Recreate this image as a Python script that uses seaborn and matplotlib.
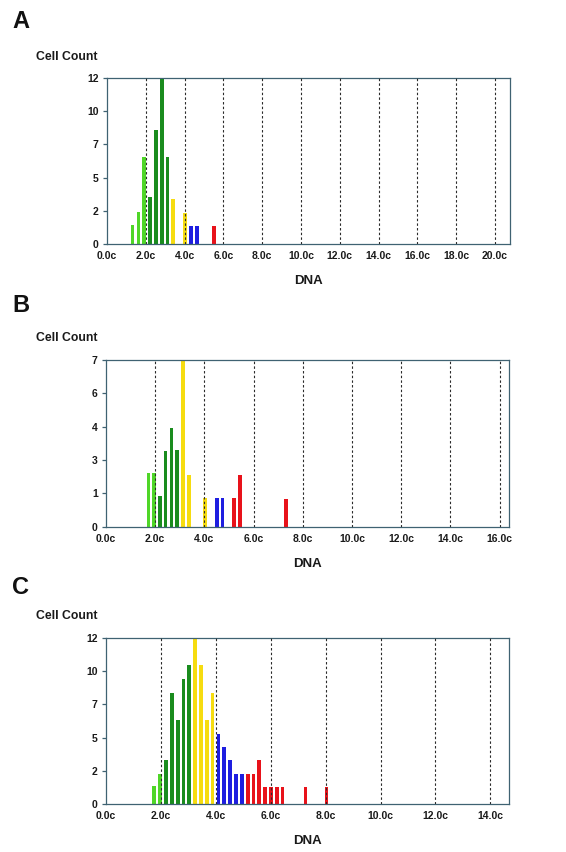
import numpy as np
import pandas as pd
import matplotlib
matplotlib.use("Agg")
import matplotlib.pyplot as plt
import seaborn as sns

# ---------------- data ----------------
a_dna = [1.32, 1.62, 1.92, 2.22, 2.52, 2.82, 3.12, 3.42, 4.02, 4.32, 4.62, 5.52]
a_count = [1.42, 2.33, 6.26, 3.38, 8.23, 12.0, 6.26, 3.26, 2.26, 1.34, 1.34, 1.30]
a_group = ["lg", "lg", "lg", "dg", "dg", "dg", "dg", "y", "y", "b", "b", "r"]

b_dna = [1.72, 1.955, 2.19, 2.425, 2.66, 2.895, 3.13, 3.365, 4.03, 4.50, 4.735, 5.205, 5.44, 7.32]
b_count = [2.24, 2.24, 1.27, 3.18, 4.14, 3.21, 7.0, 2.18, 1.20, 1.19, 1.19, 1.19, 2.17, 1.16]
b_group = ["lg", "lg", "dg", "dg", "dg", "dg", "y", "y", "y", "b", "b", "r", "r", "r"]

c_dna = [1.76, 1.97, 2.18, 2.40, 2.61, 2.82, 3.03, 3.25, 3.46, 3.67, 3.88, 4.10, 4.31,
         4.52, 4.73, 4.95, 5.16, 5.37, 5.58, 5.80, 6.01, 6.22, 6.43, 7.27, 8.03]
c_count = [1.30, 2.21, 3.17, 8.04, 6.10, 9.02, 10.0, 12.0, 10.0, 6.10, 8.04, 5.06, 4.13,
           3.17, 2.21, 2.21, 2.21, 2.21, 3.17, 1.25, 1.25, 1.25, 1.25, 1.25, 1.25]
c_group = ["lg", "lg", "dg", "dg", "dg", "dg", "dg", "y", "y", "y", "y", "b", "b",
           "b", "b", "b", "r", "r", "r", "r", "r", "r", "r", "r", "r"]

a_xticks = ["0.0c", "2.0c", "4.0c", "6.0c", "8.0c", "10.0c", "12.0c", "14.0c", "16.0c", "18.0c", "20.0c"]
b_xticks = ["0.0c", "2.0c", "4.0c", "6.0c", "8.0c", "10.0c", "12.0c", "14.0c", "16.0c"]
c_xticks = ["0.0c", "2.0c", "4.0c", "6.0c", "8.0c", "10.0c", "12.0c", "14.0c"]

a_yticks = ["0", "2", "5", "7", "10", "12"]
b_yticks = ["0", "1", "3", "4", "6", "7"]
c_yticks = ["0", "2", "5", "7", "10", "12"]

panel_letters = ["A", "B", "C"]
y_title = "Cell Count"
x_title = "DNA"

group_colors = {"lg": "#4fd628", "dg": "#1a8c1e", "y": "#f6dc10", "b": "#1e1ee0", "r": "#e8121a"}

# ---------------- style ----------------
sns.set_theme(style="white")
plt.rcParams["font.family"] = ["Liberation Sans", "DejaVu Sans"]
plt.rcParams["font.weight"] = "bold"

SPINE = "#3f6272"
W, H = 566, 852
fig = plt.figure(figsize=(W / 100, H / 100), dpi=100)

panels = [
    dict(dna=a_dna, count=a_count, group=a_group, xt=a_xticks, yt=a_yticks, ymax=12, xlim=(0.08, 20.77),
         box=(107, 77.7, 510, 244.3), letter_y=21, title_y=57, width=0.64),
    dict(dna=b_dna, count=b_count, group=b_group, xt=b_xticks, yt=b_yticks, ymax=7, xlim=(0, 16.38),
         box=(106, 360, 509, 526.7), letter_y=306, title_y=338, width=0.62),
    dict(dna=c_dna, count=c_count, group=c_group, xt=c_xticks, yt=c_yticks, ymax=12, xlim=(0, 14.68),
         box=(106, 637.7, 509, 804.3), letter_y=588, title_y=616, width=0.66),
]

for letter, p in zip(panel_letters, panels):
    x0, y0, x1, y1 = p["box"]
    ax = fig.add_axes([x0 / W, 1 - y1 / H, (x1 - x0) / W, (y1 - y0) / H])
    df = pd.DataFrame({"dna": p["dna"], "count": p["count"], "group": p["group"]})
    sns.barplot(data=df, x="dna", y="count", hue="group", palette=group_colors,
                native_scale=True, dodge=False, width=p["width"], errorbar=None,
                saturation=1, legend=False, linewidth=0, ax=ax, zorder=2)
    xt_pos = [2 * i for i in range(len(p["xt"]))]
    for t in xt_pos[1:]:
        ax.axvline(t, color="#2a2a2a", lw=0.8, ls=(0, (2.2, 2.0)), zorder=3)
    ax.set_xlim(*p["xlim"])
    ax.set_ylim(0, p["ymax"])
    ax.set_xticks(xt_pos)
    ax.set_xticklabels(p["xt"], fontsize=7.5, fontweight="bold", color="#1a1a1a")
    ax.set_yticks(np.linspace(0, p["ymax"], len(p["yt"])))
    ax.set_yticklabels(p["yt"], fontsize=7.5, fontweight="bold", color="#1a1a1a")
    ax.tick_params(axis="x", length=0, pad=5)
    ax.tick_params(axis="y", length=3, width=0.9, color=SPINE, pad=3, left=True)
    for s in ax.spines.values():
        s.set_visible(True)
        s.set_color(SPINE)
        s.set_linewidth(0.9)
    ax.set_xlabel(x_title, fontsize=9.5, fontweight="bold", labelpad=10, color="#1a1a1a")
    ax.set_ylabel("")
    ax.grid(False)
    fig.text(12 / W, 1 - p["letter_y"] / H, letter, fontsize=17, fontweight="bold",
             ha="left", va="center", color="#111111")
    fig.text(36 / W, 1 - p["title_y"] / H, y_title, fontsize=8.8, fontweight="bold",
             ha="left", va="center", color="#1a1a1a")

fig.savefig("out.png", dpi=100, facecolor="white")
